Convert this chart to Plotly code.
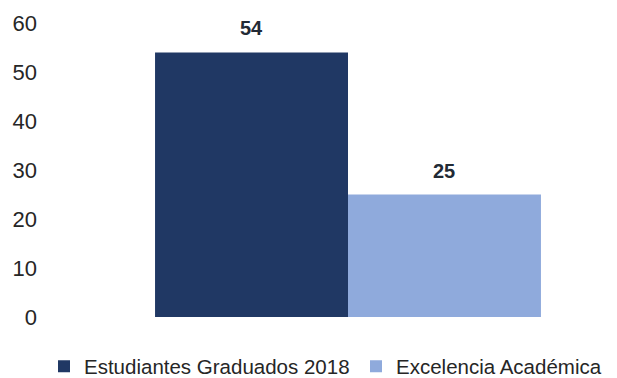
import plotly.graph_objects as go

categories = [""]
series_names = ["Estudiantes Graduados 2018", "Excelencia Académica"]
values_graduados = [54]
values_excelencia = [25]
colors = ["#203864", "#8FAADC"]
y_ticks = [0, 10, 20, 30, 40, 50, 60]

FONT = "Liberation Sans, Arial, sans-serif"

fig = go.Figure()
fig.add_trace(go.Bar(x=categories, y=values_graduados, name=series_names[0],
                     marker=dict(color=colors[0], line=dict(width=0)),
                     offset=-0.36, width=0.36, legend="legend"))
fig.add_trace(go.Bar(x=categories, y=values_excelencia, name=series_names[1],
                     marker=dict(color=colors[1], line=dict(width=0)),
                     offset=0.0, width=0.36, legend="legend2"))

for xpos, v in [(-0.18, values_graduados[0]), (0.18, values_excelencia[0])]:
    fig.add_annotation(x=xpos, y=v, text=f"<b>{v}</b>", showarrow=False,
                       yshift=24, yanchor="middle",
                       font=dict(family=FONT, size=20, color="#222a35"))

legend_common = dict(orientation="h", xref="container", yref="container",
                     xanchor="left", y=0.052, yanchor="middle",
                     font=dict(family=FONT, size=20.5, color="#262626"),
                     itemwidth=30, bgcolor="rgba(0,0,0,0)")

fig.update_layout(
    width=617, height=378,
    margin=dict(l=72, r=9, t=15, b=69, autoexpand=False),
    paper_bgcolor="white", plot_bgcolor="white",
    font=dict(family=FONT, size=20, color="#262626"),
    showlegend=True,
    legend=dict(x=36 / 617, **legend_common),
    legend2=dict(x=348 / 617, **legend_common),
    xaxis=dict(type="category", range=[-0.5, 0.5], showticklabels=False,
               showgrid=False, zeroline=False, showline=False),
    yaxis=dict(range=[0, 60], tickvals=y_ticks, showgrid=False, zeroline=False,
               showline=False, ticks="", ticklabelstandoff=42,
               tickfont=dict(family=FONT, size=22, color="#262626")),
)

fig.write_html("out.html")
